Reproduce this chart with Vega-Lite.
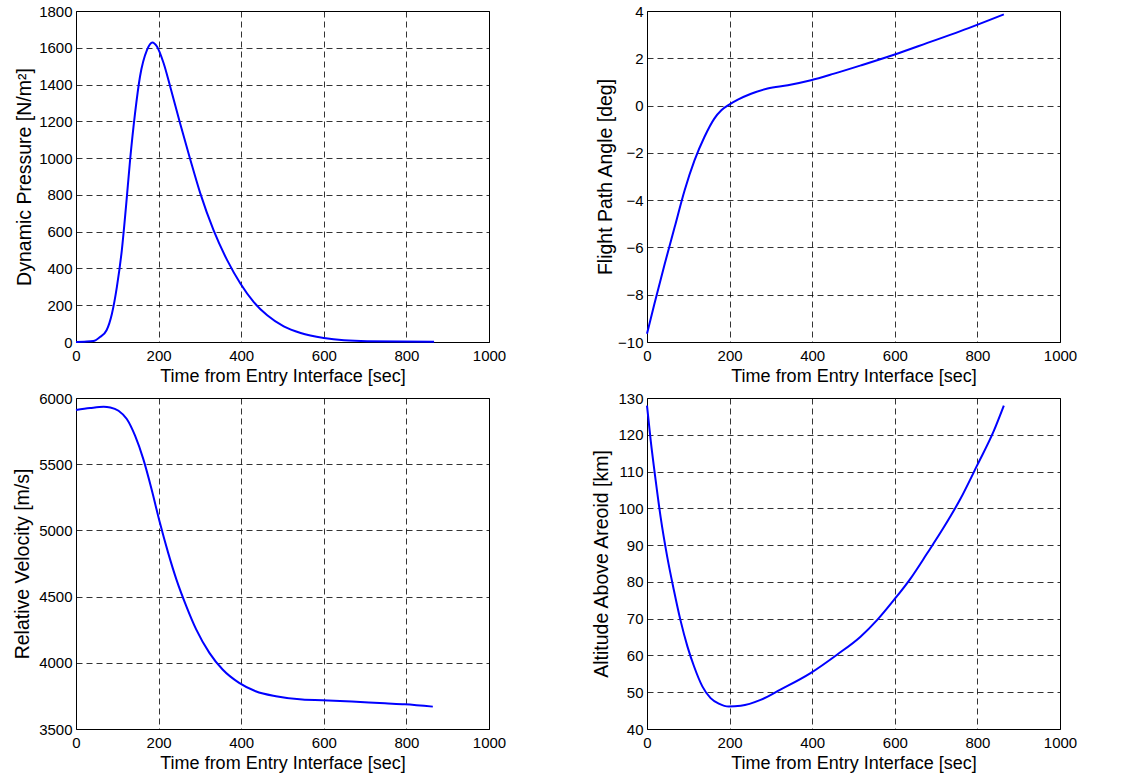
{
  "$schema": "https://vega.github.io/schema/vega-lite/v6.json",
  "background": "white",
  "padding": {"left": 12, "top": 3, "right": 5, "bottom": 5},
  "bounds": "flush",
  "columns": 2,
  "spacing": {"row": 56, "column": 158},
  "config": {
    "font": "Liberation Sans",
    "view": {"stroke": "black", "strokeWidth": 1},
    "axis": {
      "grid": true, "gridColor": "black", "gridDash": [6, 4], "gridOpacity": 1, "gridWidth": 0.8,
      "domain": false, "ticks": false, "labelFlush": false, "labelOverlap": false,
      "labelFont": "Liberation Sans", "titleFont": "Liberation Sans",
      "labelFontSize": 15, "titleFontWeight": "normal", "format": "d",
      "labelColor": "black", "titleColor": "black"
    },
    "axisX": {"labelPadding": 6, "titlePadding": 4, "titleFontSize": 18},
    "axisY": {"labelPadding": 4, "titlePadding": 5, "titleFontSize": 19.5},
    "line": {"color": "#0000ff", "strokeWidth": 2, "interpolate": "monotone"}
  },
  "datasets": {
    "pressure": [
      {"t": 0, "v": 0}, {"t": 20, "v": 2}, {"t": 42, "v": 5}, {"t": 58, "v": 27}, {"t": 74, "v": 64},
      {"t": 87, "v": 154}, {"t": 99, "v": 300}, {"t": 111, "v": 500}, {"t": 121, "v": 735},
      {"t": 131, "v": 990}, {"t": 143, "v": 1244}, {"t": 155, "v": 1444}, {"t": 172, "v": 1589},
      {"t": 185, "v": 1629}, {"t": 196, "v": 1607}, {"t": 212, "v": 1517}, {"t": 228, "v": 1390},
      {"t": 252, "v": 1190}, {"t": 277, "v": 990}, {"t": 301, "v": 808}, {"t": 333, "v": 608},
      {"t": 366, "v": 445}, {"t": 398, "v": 318}, {"t": 430, "v": 218}, {"t": 463, "v": 145},
      {"t": 503, "v": 85}, {"t": 544, "v": 49}, {"t": 600, "v": 22}, {"t": 649, "v": 9},
      {"t": 705, "v": 4}, {"t": 867, "v": 2}
    ],
    "angle": [
      {"t": 0, "v": -9.65}, {"t": 18, "v": -8.38}, {"t": 43, "v": -6.69}, {"t": 67, "v": -5.14},
      {"t": 91, "v": -3.59}, {"t": 115, "v": -2.32}, {"t": 139, "v": -1.33}, {"t": 163, "v": -0.55},
      {"t": 180, "v": -0.2}, {"t": 200, "v": 0.05}, {"t": 220, "v": 0.25}, {"t": 252, "v": 0.5},
      {"t": 292, "v": 0.72}, {"t": 341, "v": 0.86}, {"t": 397, "v": 1.07}, {"t": 453, "v": 1.35},
      {"t": 518, "v": 1.7}, {"t": 598, "v": 2.15}, {"t": 679, "v": 2.65}, {"t": 759, "v": 3.15},
      {"t": 864, "v": 3.86}
    ],
    "velocity": [
      {"t": 0, "v": 5909}, {"t": 34, "v": 5924}, {"t": 67, "v": 5934}, {"t": 83, "v": 5929},
      {"t": 103, "v": 5904}, {"t": 123, "v": 5841}, {"t": 143, "v": 5715}, {"t": 163, "v": 5538},
      {"t": 183, "v": 5311}, {"t": 203, "v": 5059}, {"t": 223, "v": 4832}, {"t": 243, "v": 4630},
      {"t": 267, "v": 4428}, {"t": 291, "v": 4252}, {"t": 323, "v": 4075}, {"t": 355, "v": 3949},
      {"t": 395, "v": 3848}, {"t": 435, "v": 3785}, {"t": 484, "v": 3747}, {"t": 548, "v": 3722},
      {"t": 596, "v": 3717}, {"t": 668, "v": 3707}, {"t": 748, "v": 3694}, {"t": 796, "v": 3687},
      {"t": 864, "v": 3669}
    ],
    "altitude": [
      {"t": 0, "v": 127.9}, {"t": 9, "v": 118.4}, {"t": 21, "v": 107.6}, {"t": 33, "v": 97.6},
      {"t": 49, "v": 86.8}, {"t": 65, "v": 77.8}, {"t": 81, "v": 69.6}, {"t": 98, "v": 62.4},
      {"t": 114, "v": 57.0}, {"t": 134, "v": 51.6}, {"t": 154, "v": 48.4}, {"t": 174, "v": 46.9},
      {"t": 198, "v": 46.1}, {"t": 227, "v": 46.3}, {"t": 275, "v": 47.9}, {"t": 323, "v": 50.7},
      {"t": 396, "v": 55.2}, {"t": 460, "v": 60.2}, {"t": 517, "v": 65.1}, {"t": 557, "v": 69.6},
      {"t": 598, "v": 75.1}, {"t": 638, "v": 80.9}, {"t": 678, "v": 87.7}, {"t": 719, "v": 94.9},
      {"t": 759, "v": 102.6}, {"t": 799, "v": 111.6}, {"t": 840, "v": 121.1}, {"t": 864, "v": 127.9}
    ]
  },
  "concat": [
    {
      "width": 413, "height": 331,
      "data": {"name": "pressure"},
      "mark": {"type": "line"},
      "encoding": {
        "x": {"field": "t", "type": "quantitative", "scale": {"domain": [0, 1000], "nice": false}, "axis": {"title": "Time from Entry Interface [sec]", "values": [0, 200, 400, 600, 800, 1000]}},
        "y": {"field": "v", "type": "quantitative", "scale": {"domain": [0, 1800], "nice": false}, "axis": {"title": "Dynamic Pressure [N/m²]", "titlePadding": 4, "values": [0, 200, 400, 600, 800, 1000, 1200, 1400, 1600, 1800]}}
      }
    },
    {
      "width": 413, "height": 331,
      "data": {"name": "angle"},
      "mark": {"type": "line"},
      "encoding": {
        "x": {"field": "t", "type": "quantitative", "scale": {"domain": [0, 1000], "nice": false}, "axis": {"title": "Time from Entry Interface [sec]", "values": [0, 200, 400, 600, 800, 1000]}},
        "y": {"field": "v", "type": "quantitative", "scale": {"domain": [-10, 4], "nice": false, "zero": false}, "axis": {"title": "Flight Path Angle [deg]", "titlePadding": 2, "values": [-10, -8, -6, -4, -2, 0, 2, 4]}}
      }
    },
    {
      "width": 413, "height": 331,
      "data": {"name": "velocity"},
      "mark": {"type": "line"},
      "encoding": {
        "x": {"field": "t", "type": "quantitative", "scale": {"domain": [0, 1000], "nice": false}, "axis": {"title": "Time from Entry Interface [sec]", "values": [0, 200, 400, 600, 800, 1000]}},
        "y": {"field": "v", "type": "quantitative", "scale": {"domain": [3500, 6000], "nice": false, "zero": false}, "axis": {"title": "Relative Velocity [m/s]", "titlePadding": 6, "values": [3500, 4000, 4500, 5000, 5500, 6000]}}
      }
    },
    {
      "width": 413, "height": 331,
      "data": {"name": "altitude"},
      "mark": {"type": "line"},
      "encoding": {
        "x": {"field": "t", "type": "quantitative", "scale": {"domain": [0, 1000], "nice": false}, "axis": {"title": "Time from Entry Interface [sec]", "values": [0, 200, 400, 600, 800, 1000]}},
        "y": {"field": "v", "type": "quantitative", "scale": {"domain": [40, 130], "nice": false, "zero": false}, "axis": {"title": "Altitude Above Areoid [km]", "titlePadding": 6, "values": [40, 50, 60, 70, 80, 90, 100, 110, 120, 130]}}
      }
    }
  ]
}
